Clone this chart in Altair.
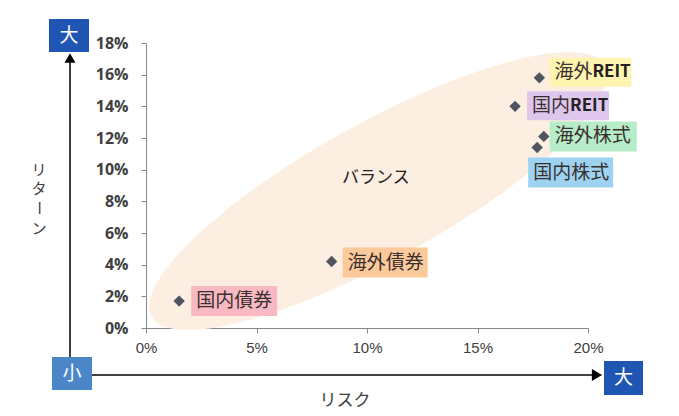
import altair as alt
import pandas as pd

# ---- data (percent) ----
names = ["国内債券", "海外債券", "国内株式", "海外株式", "国内REIT", "海外REIT"]
risk = [1.5, 8.4, 17.7, 18.0, 16.7, 17.8]
ret = [1.7, 4.2, 11.4, 12.1, 14.0, 15.8]

balance_label = ["バランス"]
balance_risk = [10.4]
balance_ret = [9.5]
ellipse_risk = [10.5]
ellipse_ret = [8.65]

x_ticks = [0, 5, 10, 15, 20]
y_ticks = [0, 2, 4, 6, 8, 10, 12, 14, 16, 18]

df = pd.DataFrame({"name": names, "risk": risk, "ret": ret})

# ---- style / layout (pixel offsets of label boxes relative to points) ----
W, H = 442, 285
JP = "Noto Sans CJK JP"
TXT = "#3a2f2f"
label_layout = {
    "国内債券": (12, 98, -15, 15, "#f8b9c3"),
    "海外債券": (11, 96, -14, 16, "#fcc99b"),
    "国内株式": (-9, 76, 10, 40, "#9dd3f0"),
    "海外株式": (6, 93, -15, 15, "#b7ecc9"),
    "国内REIT": (12, 94, -15, 14, "#dfc6ec"),
    "海外REIT": (10, 92, -20, 9, "#fff3b0"),
}

xs = alt.Scale(domain=[0, 20], nice=False)
ys = alt.Scale(domain=[0, 18], nice=False)
X = alt.X("risk:Q", scale=xs, axis=alt.Axis(
    values=x_ticks, tickCount=len(x_ticks), labelExpr="datum.value + '%'", title=None,
    grid=False, domainColor="#888888", tickColor="#888888", tickSize=5, labelPadding=7,
    labelOverlap=False, labelFlush=False, labelFont="Liberation Sans", labelFontSize=15,
    labelColor="#404040"))
Y = alt.Y("ret:Q", scale=ys, axis=alt.Axis(
    values=y_ticks, tickCount=len(y_ticks), labelExpr="datum.value + '%'", title=None,
    grid=False, domainColor="#888888", tickColor="#888888", tickSize=5, labelPadding=13,
    labelOverlap=False, labelFlush=False, labelFont="Open Sans", labelFontWeight="bold",
    labelFontSize=16, labelColor="#404040"))

layers = []

# ellipse "バランス"
ell = pd.DataFrame({"risk": ellipse_risk, "ret": ellipse_ret})
layers.append(alt.Chart(ell).mark_point(
    shape="M -1 0 A 1 0.263 0 1 1 1 0 A 1 0.263 0 1 1 -1 0 Z",
    size=(2 * 259) ** 2, angle=331, filled=True, color="#fdeee2",
    opacity=1, strokeWidth=0).encode(x=X, y=Y))

bal = pd.DataFrame({"risk": balance_risk, "ret": balance_ret, "t": balance_label})
layers.append(alt.Chart(bal).mark_text(font=JP, fontSize=17, color="#222222").encode(
    x=X, y=Y, text="t:N"))

# points
layers.append(alt.Chart(df).mark_point(shape="diamond", filled=True, size=130,
                                       color="#50555f", opacity=1).encode(x=X, y=Y))

# label boxes and texts
for nm, (x0, x1, y0, y1, fill) in label_layout.items():
    sub = alt.Chart(df).transform_filter(alt.datum.name == nm)
    path = (f"M {x0/100} {y0/100} L {x1/100} {y0/100} L {x1/100} {y1/100} "
            f"L {x0/100} {y1/100} Z")
    layers.append(sub.mark_point(shape=path, size=40000, filled=True, color=fill,
                                 opacity=1, strokeWidth=0).encode(x=X, y=Y))
    dy = (y0 + y1) / 2
    if nm.endswith("REIT"):
        layers.append(sub.transform_calculate(t="slice(datum.name, 0, 2)").mark_text(
            align="left", baseline="middle", dx=x0 + 5, dy=dy, font=JP,
            fontSize=19, color=TXT).encode(x=X, y=Y, text="t:N"))
        layers.append(sub.transform_calculate(t="slice(datum.name, 2)").mark_text(
            align="left", baseline="middle", dx=x0 + 5 + 38, dy=dy, font=JP,
            fontWeight="bold", fontSize=17, color="#222222").encode(
            x=X, y=Y, text="t:N"))
    else:
        layers.append(sub.mark_text(
            align="left", baseline="middle", dx=x0 + 5, dy=dy, font=JP,
            fontSize=19, color=TXT).encode(x=X, y=Y, text="name:N"))

# ---- decorations outside the plot (arrows, boxes, axis titles) ----
one = pd.DataFrame({"a": [0]})
ytitle_chars = ["リ", "タ", "ー", "ン"]
ytitle_y = [127, 146, 165, 186]
deco = [
    alt.Chart(one).mark_rule(color="black", strokeWidth=1.5).encode(
        x=alt.value(-76), y=alt.value(18), y2=alt.value(314)),
    alt.Chart(one).mark_rule(color="black", strokeWidth=1.5).encode(
        x=alt.value(-56), x2=alt.value(447), y=alt.value(332)),
    alt.Chart(one).mark_point(shape="triangle-up", size=120, filled=True, color="black",
                              opacity=1).encode(x=alt.value(-76), y=alt.value(15)),
    alt.Chart(one).mark_point(shape="triangle-right", size=140, filled=True, color="black",
                              opacity=1).encode(x=alt.value(451), y=alt.value(332)),
    alt.Chart(one).mark_rect(color="#1f56b4").encode(
        x=alt.value(-97), x2=alt.value(-57), y=alt.value(-24), y2=alt.value(9)),
    alt.Chart(one).mark_text(font=JP, fontSize=19, color="white").encode(
        x=alt.value(-77), y=alt.value(-7), text=alt.value("大")),
    alt.Chart(one).mark_rect(color="#4a86c8").encode(
        x=alt.value(-94), x2=alt.value(-54), y=alt.value(314), y2=alt.value(347)),
    alt.Chart(one).mark_text(font=JP, fontSize=19, color="white").encode(
        x=alt.value(-74), y=alt.value(331), text=alt.value("小")),
    alt.Chart(one).mark_rect(color="#1f56b4").encode(
        x=alt.value(458), x2=alt.value(497), y=alt.value(318), y2=alt.value(352)),
    alt.Chart(one).mark_text(font=JP, fontSize=19, color="white").encode(
        x=alt.value(477.5), y=alt.value(335), text=alt.value("大")),
    alt.Chart(one).mark_text(font=JP, fontSize=17, color="#404040").encode(
        x=alt.value(199), y=alt.value(358), text=alt.value("リスク")),
]
for ch, yy in zip(ytitle_chars, ytitle_y):
    deco.append(alt.Chart(one).mark_text(
        font=JP, fontSize=15, color="#404040", angle=90 if ch == "ー" else 0).encode(
        x=alt.value(-107), y=alt.value(yy), text=alt.value(ch)))

chart = alt.layer(*layers, *deco).properties(
    width=W, height=H,
    autosize=alt.AutoSizeParams(type="none"),
    padding={"left": 146, "top": 43, "right": 91, "bottom": 88},
    background="white",
).configure_view(stroke=None)

chart.save("out.html", embed_options={"renderer": "svg", "actions": False})
